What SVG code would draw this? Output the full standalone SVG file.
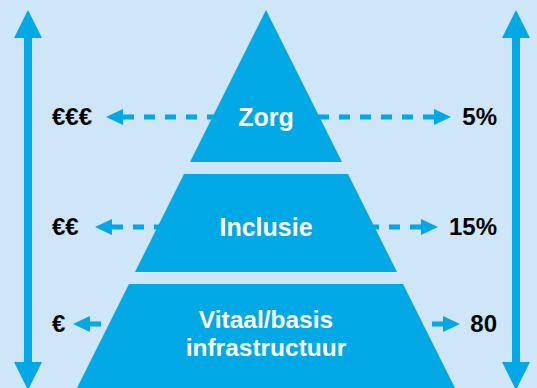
<svg xmlns="http://www.w3.org/2000/svg" width="537" height="388" viewBox="0 0 537 388">
  <defs>
    <style>
      .bg { fill: #cfe5f8; }
      .tier { fill: #00a8e5; }
      .axis { stroke: #00a8e5; stroke-width: 8; fill: none; }
      .dash { stroke: #00a8e5; stroke-width: 5; stroke-dasharray: 11 10; fill: none; }
      .tier-label { font-family: "Liberation Sans", Arial, sans-serif; font-weight: bold; font-size: 25px; fill: #ffffff; text-anchor: middle; }
      .tier-label-sm { font-family: "Liberation Sans", Arial, sans-serif; font-weight: bold; font-size: 24.5px; fill: #ffffff; text-anchor: middle; }
      .side-label { font-family: "Liberation Sans", Arial, sans-serif; font-weight: bold; font-size: 24px; fill: #000000; }
    </style>
    <marker id="axis-head" markerUnits="userSpaceOnUse" viewBox="0 -14 28 28" refX="0" refY="0" markerWidth="28" markerHeight="28" orient="auto-start-reverse" overflow="visible">
      <path d="M0,-14 L28,0 L0,14 Z" fill="#00a8e5"/>
    </marker>
    <marker id="dash-head" markerUnits="userSpaceOnUse" viewBox="0 -8 17 16" refX="0" refY="0" markerWidth="17" markerHeight="16" orient="auto-start-reverse" overflow="visible">
      <path d="M0,-8 L17,0 L0,8 Z" fill="#00a8e5"/>
    </marker>
  </defs>

  <rect class="bg" x="0" y="0" width="537" height="388"/>

  <!-- connectors: vertical scales and dashed level arrows -->
  <g id="connectors">
    <line class="axis" x1="28" y1="38" x2="28" y2="362" marker-start="url(#axis-head)" marker-end="url(#axis-head)"/>
    <line class="axis" x1="516" y1="38" x2="516" y2="362" marker-start="url(#axis-head)" marker-end="url(#axis-head)"/>

    <line class="dash" x1="123" y1="117" x2="266" y2="117" marker-start="url(#dash-head)"/>
    <line class="dash" x1="434" y1="117" x2="266" y2="117" marker-start="url(#dash-head)"/>

    <line class="dash" x1="112" y1="227" x2="266" y2="227" marker-start="url(#dash-head)"/>
    <line class="dash" x1="421" y1="227" x2="266" y2="227" marker-start="url(#dash-head)"/>

    <line class="dash" x1="90" y1="324" x2="266" y2="324" marker-start="url(#dash-head)"/>
    <line class="dash" x1="443" y1="324" x2="266" y2="324" marker-start="url(#dash-head)"/>
  </g>

  <!-- pyramid tiers -->
  <g id="tier-zorg">
    <polygon class="tier" points="266,10 342,162 190,162"/>
    <text class="tier-label" x="266" y="126">Zorg</text>
  </g>
  <g id="tier-inclusie">
    <polygon class="tier" points="184,174 348,174 397,272 135,272"/>
    <text class="tier-label" x="266" y="236">Inclusie</text>
  </g>
  <g id="tier-vitaal">
    <polygon class="tier" points="129,284 403,284 455,388 77,388"/>
    <text class="tier-label-sm" x="266" y="328">Vitaal/basis</text>
    <text class="tier-label-sm" x="266" y="356">infrastructuur</text>
  </g>

  <!-- cost labels -->
  <g id="cost-high"><text class="side-label" x="52" y="125">€€€</text></g>
  <g id="cost-mid"><text class="side-label" x="52" y="235">€€</text></g>
  <g id="cost-low"><text class="side-label" x="52" y="332">€</text></g>

  <!-- share labels -->
  <g id="share-high"><text class="side-label" x="497" y="125" text-anchor="end">5%</text></g>
  <g id="share-mid"><text class="side-label" x="497" y="235" text-anchor="end">15%</text></g>
  <g id="share-low"><text class="side-label" x="497" y="332" text-anchor="end">80</text></g>
</svg>
